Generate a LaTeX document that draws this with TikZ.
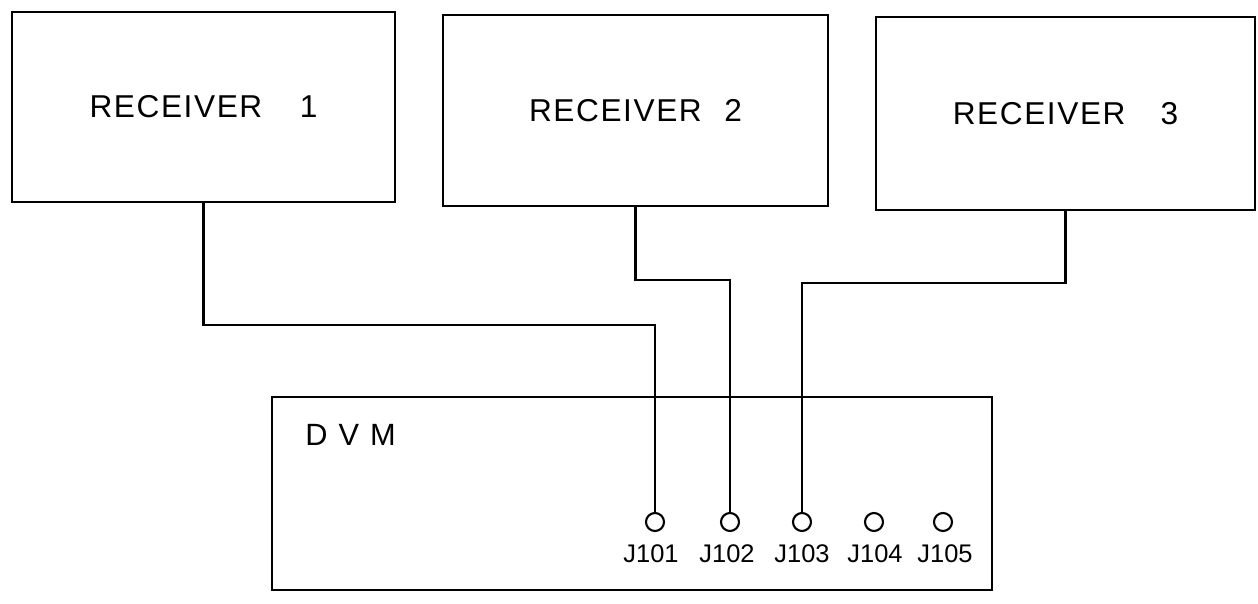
\documentclass[tikz,border=0pt]{standalone}
\usepackage{fontspec}
\setmainfont{Liberation Sans}[LetterSpace=5]
\newfontfamily\jackfont{Liberation Sans}
\begin{document}
\begin{tikzpicture}[x=0.02cm,y=-0.02cm,
    unit/.style={shape=rectangle,draw=black,line width=1.6pt,inner sep=0pt,
        font=\fontsize{18}{20}\selectfont},
    jack/.style={shape=circle,draw=black,line width=1.2pt,inner sep=0pt,minimum size=0.36cm},
    jacklbl/.style={anchor=base,inner sep=0pt,font=\jackfont\fontsize{14.5}{17}\selectfont},
    wire/.style={line width=1.4pt}]
            \useasboundingbox (0,0) rectangle (1258,603);
            % units
            \node[unit,minimum width=7.66cm,minimum height=3.8cm] (r1) at (203.5,107) {RECEIVER\hspace{0.75cm}1};
            \node[unit,minimum width=7.7cm,minimum height=3.82cm] (r2) at (635.5,110.5) {RECEIVER\hspace{0.45cm}2};
            \node[unit,minimum width=7.58cm,minimum height=3.86cm] (r3) at (1065.5,113.5) {RECEIVER\hspace{0.7cm}3};
            \node[unit,minimum width=14.4cm,minimum height=3.86cm] (dvm) at (632,493.5) {};
            \node[anchor=base west,inner sep=0pt,font=\fontsize{17.5}{20}\selectfont] (dvmlbl) at (305,445) {D\hspace{0.22cm}V\hspace{0.22cm}M};
            
            % jacks
            \node[jack] (j101) at (655,522) {};
            \node[jack] (j102) at (730,522) {};
            \node[jack] (j103) at (802,522) {};
            \node[jack] (j104) at (874,522) {};
            \node[jack] (j105) at (943,522) {};
            \node[jacklbl] (l101) at (651,562) {J101};
            \node[jacklbl] (l102) at (727,562) {J102};
            \node[jacklbl] (l103) at (802,562) {J103};
            \node[jacklbl] (l104) at (875,562) {J104};
            \node[jacklbl] (l105) at (945,562) {J105};
            
            % wires
            \coordinate (t1) at (655,325);
            \coordinate (t2) at (730,280);
            \coordinate (t3) at (802,283);
            \draw[wire] (r1.south) |- (t1) -- (j101.north);
            \draw[wire] (r2.south) |- (t2) -- (j102.north);
            \draw[wire] (r3.south) |- (t3) -- (j103.north);
\end{tikzpicture}
\end{document}
